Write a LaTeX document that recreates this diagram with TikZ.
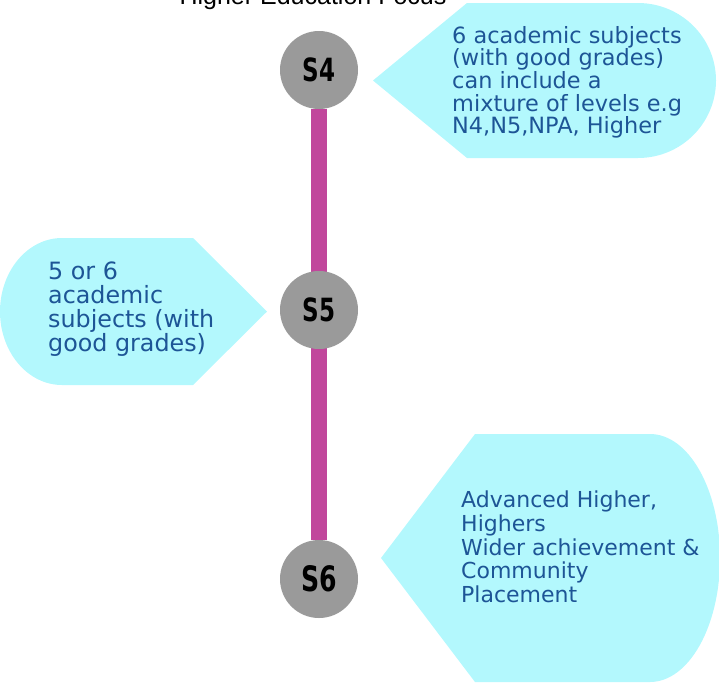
\documentclass[tikz,border=0pt]{standalone}
\usepackage{fontspec}
\setmainfont{DejaVu Sans}
\newfontfamily\titlefont{Liberation Sans}
\newfontfamily\yearfont{DejaVu Sans}[FakeStretch=0.72]
\usetikzlibrary{backgrounds}

\definecolor{notefill}{HTML}{B3F8FD}
\definecolor{notetext}{HTML}{1D5596}
\definecolor{trackpink}{HTML}{C1479C}
\definecolor{stagegray}{HTML}{9A9A9A}

\begin{document}
\begin{tikzpicture}[x=1pt,y=-1pt]
        \tikzstyle{every node}=[inner sep=0pt]
        \tikzstyle{year}=[circle, fill=stagegray, minimum size=78pt, font=\yearfont\bfseries\fontsize{32}{32}\selectfont]
        \tikzstyle{bubble}=[fill=notefill]
        \tikzstyle{note}=[anchor=north west, align=left, text=notetext]
        \tikzstyle{track}=[draw=trackpink, line width=16pt]

        \useasboundingbox (0,0) rectangle (719,683);

        % title, cut at the top edge
        \node (title) [anchor=base, font=\titlefont\fontsize{25}{25}\selectfont] at (313,4) {Higher Education Focus};

        % callouts
        \fill[bubble] (467,3) -- (638,3) arc[start angle=-90, end angle=90, x radius=78, y radius=77.5]
            -- (467,158) -- (373,80.5) -- cycle;
        \fill[bubble] (193,238) -- (267,311.5) -- (193,385) -- (62,385)
            arc[start angle=90, end angle=270, x radius=62, y radius=73.5] -- cycle;
        \fill[bubble] (475,434) -- (650,434) arc[start angle=-90, end angle=90, x radius=70, y radius=124]
            -- (475,682) -- (381,558) -- cycle;

        \node (n4) [note, font=\fontsize{22.4}{22.6}\selectfont] at (452,26)
            {6 academic subjects\\(with good grades)\\can include a\\mixture of levels e.g\\N4,N5,NPA, Higher};
        \node (n5) [note, font=\fontsize{23.8}{24}\selectfont] at (48,262)
            {5 or 6\\academic\\subjects (with\\good grades)};
        \node (n6) [note, font=\fontsize{22}{23.6}\selectfont] at (461,491)
            {Advanced Higher,\\Highers\\Wider achievement \&\\Community\\Placement};

        % years
        \node (s4) [year] at (319,70) {S4};
        \node (s5) [year] at (319,310) {S5};
        \node (s6) [year, font=\yearfont\bfseries\fontsize{35}{35}\selectfont] at (319,579) {S6};

        \begin{scope}[on background layer]
            \draw[track] (s4) -- (s6);
        \end{scope}

    \end{tikzpicture}
\end{document}
